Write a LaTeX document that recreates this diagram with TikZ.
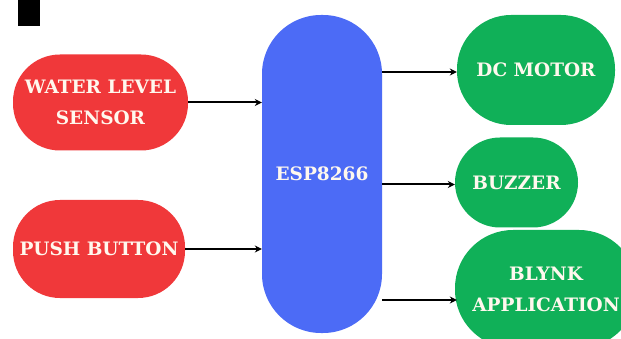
\documentclass[tikz,border=0pt]{standalone}
\usepackage{fontspec}
\setmainfont{DejaVu Serif}
\usetikzlibrary{arrows.meta,calc}
\definecolor{inred}{HTML}{F0383A}
\definecolor{cpublue}{HTML}{4C6BF6}
\definecolor{outgreen}{HTML}{10B058}
\definecolor{labelwhite}{HTML}{FFF8EE}
\tikzset{
  block/.style={rectangle, text=labelwhite, align=center, inner sep=0pt,
    font=\bfseries\fontsize{18.5}{31}\selectfont},
  inblock/.style={block, fill=inred, rounded corners=47pt},
  outblock/.style={block, fill=outgreen, rounded corners=54pt},
  cpublock/.style={block, fill=cpublue, rounded corners=59pt},
  arr/.style={draw=black, line width=2pt, -{Stealth[length=7pt,width=7pt]}}
}
\begin{document}
\begin{tikzpicture}[x=1pt,y=-1pt]
\path[use as bounding box, clip] (0,0) rectangle (621,339);
\fill[white] (0,0) rectangle (621,339);
% corner mark
\fill[black] (18,0) rectangle (40,26);
% inputs
\node[inblock, minimum width=175pt, minimum height=96pt] (wls) at (100.5,102.5) {WATER LEVEL\\SENSOR};
\node[inblock, minimum width=172pt, minimum height=98pt] (pb) at (99,249) {PUSH BUTTON};
% controller
\node[cpublock, minimum width=120pt, minimum height=318pt] (esp) at (322,174) {ESP8266};
% outputs
\node[outblock, minimum width=158pt, minimum height=110pt] (dcm) at (536,70) {DC MOTOR};
\node[outblock, minimum width=123pt, minimum height=90pt, rounded corners=45pt] (buz) at (516.5,182.5) {BUZZER};
\node[outblock, minimum width=182pt, minimum height=118pt, rounded corners=58pt] (bly) at (546,289) {BLYNK\\APPLICATION};
% arrow levels on the output side
\coordinate (dcmin) at ($(dcm.west)+(0,2)$);
\coordinate (buzin) at ($(buz.west)+(0,2)$);
\coordinate (blyin) at ($(bly.west)+(0,11)$);
% connections
\draw[arr] (wls.east) -- (wls.east -| esp.west);
\draw[arr] (pb.east) -- (pb.east -| esp.west);
\draw[arr] (dcmin -| esp.east) -- (dcmin);
\draw[arr] (buzin -| esp.east) -- (buzin);
\draw[arr] (blyin -| esp.east) -- ($(blyin)+(2,0)$);
\end{tikzpicture}
\end{document}
